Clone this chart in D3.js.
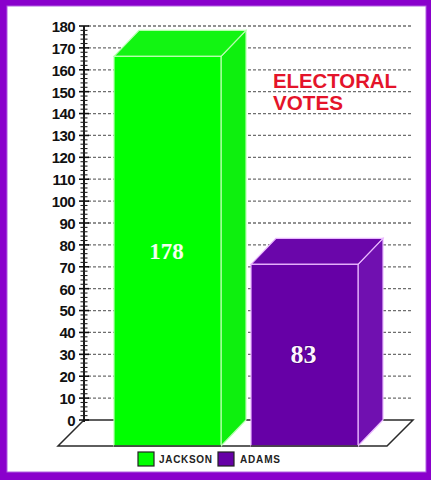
<!DOCTYPE html>
<html>
<head>
<meta charset="utf-8">
<script src="https://cdn.jsdelivr.net/npm/d3@7/dist/d3.min.js"></script>
<style>
  html, body { margin: 0; padding: 0; background: #ffffff; }
  svg { display: block; }
</style>
</head>
<body>
<div id="chart"></div>
<script>
// ---- data ----
const categories = ["JACKSON", "ADAMS"];
const votes = [178, 83];
const voteLabels = ["178", "83"];
const yTicks = [0, 10, 20, 30, 40, 50, 60, 70, 80, 90, 100, 110, 120, 130, 140, 150, 160, 170, 180];
const titleLines = ["ELECTORAL", "VOTES"];

// ---- styles ----
const frontColors = ["#00ff00", "#6600a6"];
const topColors = ["#12f512", "#6a06aa"];
const sideColors = ["#0ef00e", "#7010b0"];
const edgeColors = ["#b8ffb0", "#eab8ff"];

const W = 431, H = 480;
const svg = d3.select("#chart").append("svg").attr("width", W).attr("height", H);

// frame
svg.append("rect").attr("x", 0).attr("y", 0).attr("width", W).attr("height", H).attr("fill", "#8a00cc");
svg.append("rect").attr("x", 7).attr("y", 6).attr("width", 419).attr("height", 466).attr("fill", "#ffffff")
  .attr("stroke", "#b060e0").attr("stroke-width", 1);

// scales
const axisX = 84, gridRight = 413;
const depthX = 25, depthY = 26;
const y = d3.scaleLinear().domain([0, 180]).range([420, 26]);
const x = d3.scaleBand().domain(categories).range([114, 358]).paddingInner(0.219).paddingOuter(0);

// gridlines (back plane)
svg.append("g").selectAll("line").data(yTicks.filter(d => d > 0)).join("line")
  .attr("x1", axisX + 4).attr("x2", gridRight)
  .attr("y1", d => y(d)).attr("y2", d => y(d))
  .attr("stroke", "#6e6e6e").attr("stroke-width", 1.3).attr("stroke-dasharray", "3,2");

// floor
const y0 = y(0);
svg.append("path")
  .attr("d", `M${axisX},${y0} L${gridRight},${y0} L${gridRight - depthX - 1},${y0 + depthY} L${axisX - depthX - 1},${y0 + depthY} Z`)
  .attr("fill", "#ffffff").attr("stroke", "#2a2a2a").attr("stroke-width", 1.5);

// y axis: labels via d3.axisLeft
const axis = d3.axisLeft(y).tickValues(yTicks).tickSize(0).tickPadding(9).tickFormat(d3.format("d"));
const gAxis = svg.append("g").attr("transform", `translate(${axisX},0)`).call(axis);
gAxis.select(".domain").remove();
gAxis.selectAll("text")
  .attr("font-family", "'Liberation Sans', Arial, sans-serif")
  .attr("font-weight", "bold").attr("font-size", 15).attr("fill", "#111")
  .attr("letter-spacing", "-0.6").attr("dy", "0.36em");

// ruler line and ticks
svg.append("line").attr("x1", axisX).attr("x2", axisX).attr("y1", y(180)).attr("y2", y(0) + 2)
  .attr("stroke", "#1a1a1a").attr("stroke-width", 2);
const minor = d3.range(0, 181, 2).filter(d => d % 10 !== 0);
svg.append("g").selectAll("line").data(minor).join("line")
  .attr("x1", axisX - 3.5).attr("x2", axisX + 3.5)
  .attr("y1", d => y(d)).attr("y2", d => y(d))
  .attr("stroke", "#222").attr("stroke-width", 1.1);
svg.append("g").selectAll("line").data(yTicks).join("line")
  .attr("x1", axisX - 5).attr("x2", axisX + 5)
  .attr("y1", d => y(d)).attr("y2", d => y(d))
  .attr("stroke", "#111").attr("stroke-width", 1.6);

// bars (3D)
const bars = svg.append("g");
categories.forEach((c, i) => {
  const x0 = x(c), x1 = x(c) + x.bandwidth();
  const bt = y(votes[i]);          // back top
  const ft = bt + depthY;          // front top
  const fb = y0 + depthY;          // front bottom
  const g = bars.append("g");
  // side face
  g.append("path")
    .attr("d", `M${x1},${ft} L${x1 + depthX},${bt} L${x1 + depthX},${y0} L${x1},${fb} Z`)
    .attr("fill", sideColors[i]).attr("stroke", edgeColors[i]).attr("stroke-width", 1.2);
  // top face
  g.append("path")
    .attr("d", `M${x0},${ft} L${x0 + depthX},${bt} L${x1 + depthX},${bt} L${x1},${ft} Z`)
    .attr("fill", topColors[i]).attr("stroke", edgeColors[i]).attr("stroke-width", 1.2);
  // front face
  g.append("rect").attr("x", x0).attr("y", ft).attr("width", x1 - x0).attr("height", fb - ft)
    .attr("fill", frontColors[i]).attr("stroke", edgeColors[i]).attr("stroke-width", 1.2);
  // re-draw front bottom edge dark (floor front line)
  g.append("line").attr("x1", x0).attr("x2", x1).attr("y1", fb).attr("y2", fb)
    .attr("stroke", "#2a2a2a").attr("stroke-width", 1.5);
});

// value labels
const labelY = [259, 363];
svg.append("g").selectAll("text").data(voteLabels).join("text")
  .attr("x", (d, i) => x(categories[i]) + x.bandwidth() / 2 - 1)
  .attr("y", (d, i) => labelY[i])
  .attr("text-anchor", "middle")
  .attr("font-family", "'Liberation Serif', 'Times New Roman', serif")
  .attr("font-weight", "bold")
  .attr("font-size", (d, i) => i === 0 ? 23 : 26)
  .attr("fill", (d, i) => i === 0 ? "#f4fff0" : "#fff4ff")
  .attr("stroke", (d, i) => i === 0 ? "none" : "#3c0070")
  .attr("stroke-width", 1.2)
  .attr("paint-order", "stroke")
  .text(d => d);

// title
svg.append("g").selectAll("text").data(titleLines).join("text")
  .attr("x", 273).attr("y", (d, i) => [88, 110][i])
  .attr("font-family", "'Liberation Sans', Arial, sans-serif")
  .attr("font-weight", "bold").attr("font-size", 20)
  .attr("fill", "#e4142a")
  .attr("textLength", (d, i) => [124, 70][i]).attr("lengthAdjust", "spacingAndGlyphs")
  .text(d => d);

// legend
const legX = [138, 218], legTextX = [159, 240], legLen = [53, 40];
const leg = svg.append("g");
categories.forEach((c, i) => {
  leg.append("rect").attr("x", legX[i]).attr("y", 452).attr("width", 16).attr("height", 14)
    .attr("fill", frontColors[i]).attr("stroke", "#222").attr("stroke-width", 1.2);
  leg.append("text").attr("x", legTextX[i]).attr("y", 463)
    .attr("font-family", "'Liberation Sans', Arial, sans-serif")
    .attr("font-weight", "bold").attr("font-size", 10).attr("fill", "#222")
    .attr("textLength", legLen[i]).attr("lengthAdjust", "spacing")
    .text(c);
});
</script>
</body>
</html>
